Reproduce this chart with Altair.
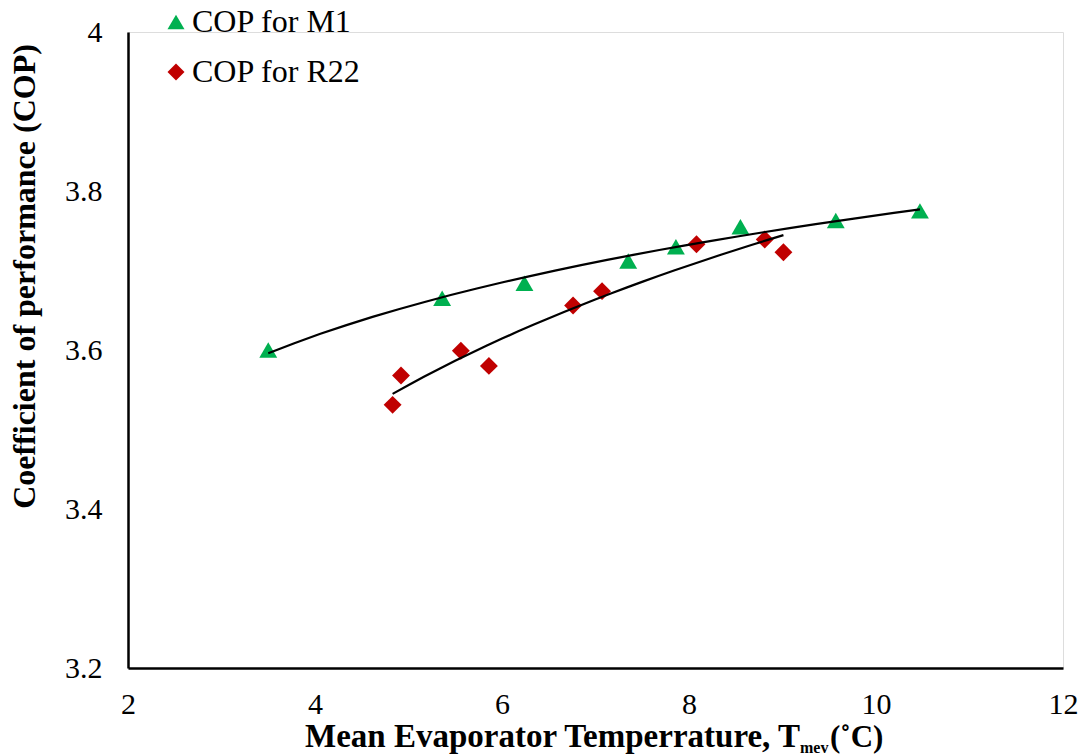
import altair as alt
import pandas as pd

# M1 series (mean evaporator temperature, COP)
m1_temp = [3.50, 5.36, 6.24, 7.35, 7.86, 8.55, 9.57, 10.47]
m1_cop = [3.600, 3.665, 3.684, 3.712, 3.730, 3.755, 3.763, 3.775]

# R22 series
r22_temp = [4.83, 4.92, 5.56, 5.86, 6.76, 7.07, 8.08, 8.81, 9.01]
r22_cop = [3.531, 3.568, 3.599, 3.580, 3.656, 3.674, 3.733, 3.739, 3.723]

series_names = ["COP for M1", "COP for R22"]
series_colors = ["#00B050", "#C00000"]
series_shapes = ["triangle-up", "diamond"]

x_ticks = [2, 4, 6, 8, 10, 12]
y_ticks = [3.2, 3.4, 3.6, 3.8, 4.0]

df = pd.concat([
    pd.DataFrame({"T": m1_temp, "COP": m1_cop, "series": series_names[0]}),
    pd.DataFrame({"T": r22_temp, "COP": r22_cop, "series": series_names[1]}),
], ignore_index=True)

FONT = "Times New Roman, Liberation Serif, serif"
W, H = 935, 636

x_enc = alt.X("T:Q",
              scale=alt.Scale(domain=[2, 12], nice=False, zero=False),
              axis=alt.Axis(values=x_ticks, format="d", title=None, grid=False,
                            ticks=False, tickSize=0, domainColor="black",
                            domainWidth=2.5, labelFont=FONT, labelFontSize=30,
                            labelColor="black", labelPadding=21,
                            labelFlush=False, labelOverlap=False))
y_enc = alt.Y("COP:Q",
              scale=alt.Scale(domain=[3.2, 4.0], nice=False, zero=False),
              axis=alt.Axis(values=y_ticks, format="~g",
                            title="Coefficient of performance (COP)",
                            titleFont=FONT, titleFontSize=32, titleFontWeight="bold",
                            titleColor="black", titleAngle=270,
                            titleX=-104, titleY=244, titleAlign="center",
                            titleBaseline="middle",
                            grid=False, ticks=False, tickSize=0,
                            domainColor="black", domainWidth=2.5,
                            labelFont=FONT, labelFontSize=30, labelColor="black",
                            labelPadding=26, labelFlush=False, labelOverlap=False))

points = alt.Chart(df).mark_point(filled=True, size=320, opacity=1, strokeWidth=0).encode(
    x=x_enc,
    y=y_enc,
    color=alt.Color("series:N",
                    scale=alt.Scale(domain=series_names, range=series_colors),
                    legend=alt.Legend(title=None, orient="none", legendX=32,
                                      legendY=-26, labelFont=FONT,
                                      labelFontSize=32, labelColor="black",
                                      labelLimit=500,
                                      symbolSize=290, rowPadding=18,
                                      labelOffset=0, padding=0,
                                      symbolStrokeWidth=0)),
    shape=alt.Shape("series:N",
                    scale=alt.Scale(domain=series_names, range=series_shapes)),
)

trend = alt.Chart(df).transform_regression(
    "T", "COP", method="log", groupby=["series"]
).mark_line(color="black", strokeWidth=2.2).encode(
    x="T:Q", y="COP:Q", detail="series:N"
)

label_df = pd.DataFrame({"a": [0]})
t_main = alt.Chart(label_df).mark_text(
    text="Mean Evaporator Temperrature, T", font=FONT, fontSize=33,
    fontWeight="bold", align="right", baseline="alphabetic", color="black"
).encode(x=alt.value(672), y=alt.value(715))
t_sub = alt.Chart(label_df).mark_text(
    text="mev", font=FONT, fontSize=16, fontWeight="bold",
    align="left", baseline="alphabetic", color="black"
).encode(x=alt.value(672), y=alt.value(721))
t_unit = alt.Chart(label_df).mark_text(
    text="(˚C)", font=FONT, fontSize=31, fontWeight="bold",
    align="left", baseline="alphabetic", color="black"
).encode(x=alt.value(702), y=alt.value(715))

chart = alt.layer(points, trend, t_main, t_sub, t_unit).properties(
    width=W, height=H,
    autosize=alt.AutoSizeParams(type="none"),
    padding={"left": 128, "top": 32, "right": 24, "bottom": 88},
).configure_view(stroke=None).configure(background="white")

chart.save("out.html", embed_options={"renderer": "svg", "actions": False})
